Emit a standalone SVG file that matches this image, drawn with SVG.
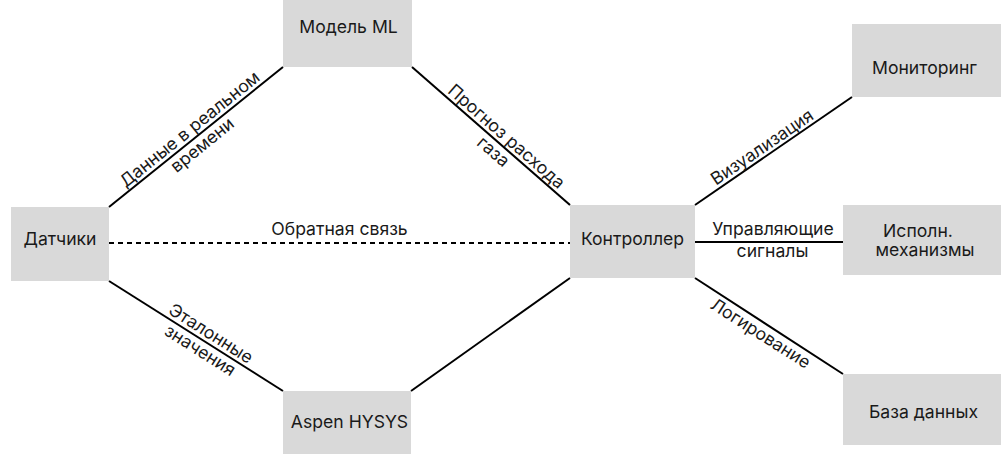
<svg xmlns="http://www.w3.org/2000/svg" width="1001" height="454" viewBox="0 0 1001 454">
<style>
.box{fill:#d9d9d9}
.t{font-family:Inter,"Noto Sans",sans-serif;font-size:17.6px;fill:#1a1a1a;text-anchor:middle}
.l{stroke:#000;stroke-width:2;fill:none}
.d{stroke:#000;stroke-width:2;fill:none;stroke-dasharray:5 4}
</style>
<rect width="1001" height="454" fill="#fff"/>
<g id="connectors">
<line class="l" x1="109" y1="207" x2="283" y2="67"/>
<line class="l" x1="412" y1="67" x2="570" y2="205"/>
<line class="l" x1="109" y1="281" x2="283" y2="391"/>
<line class="l" x1="411" y1="391" x2="570" y2="278"/>
<line class="d" x1="109" y1="243" x2="570" y2="243"/>
<line class="l" x1="695" y1="205" x2="852" y2="97"/>
<line class="l" x1="695" y1="242" x2="843" y2="242"/>
<line class="l" x1="695" y1="278" x2="843" y2="374"/>
<g transform="translate(196,137) rotate(-38.8)"><text class="t" x="0" y="-4">Данные в реальном</text><text class="t" x="0" y="16">времени</text></g>
<g transform="translate(500,144) rotate(41.1)"><text class="t" x="0" y="-4">Прогноз расхода</text><text class="t" x="0" y="16">газа</text></g>
<g transform="translate(205.6,341.9) rotate(32.4)"><text class="t" x="0" y="-4">Эталонные</text><text class="t" x="0" y="16">значения</text></g>
<text class="t" x="339.5" y="235">Обратная связь</text>
<g transform="translate(767.7,155.4) rotate(-34.3)"><text class="t" x="0" y="-4">Визуализация</text></g>
<text class="t" x="773" y="235">Управляющие</text>
<text class="t" x="772.5" y="257">сигналы</text>
<g transform="translate(766,325) rotate(32.5)"><text class="t" x="0" y="16">Логирование</text></g>
</g>
<g id="n-sensors"><rect class="box" x="11" y="207" width="98" height="74"/><text class="t" x="60" y="245">Датчики</text></g>
<g id="n-ml"><rect class="box" x="283" y="-8" width="129" height="75"/><text class="t" x="348.5" y="33">Модель ML</text></g>
<g id="n-controller"><rect class="box" x="570" y="205" width="125" height="73"/><text class="t" x="632.5" y="245">Контроллер</text></g>
<g id="n-hysys"><rect class="box" x="283" y="391" width="128" height="73"/><text class="t" x="349.5" y="428">Aspen HYSYS</text></g>
<g id="n-monitoring"><rect class="box" x="852" y="24" width="149" height="73"/><text class="t" x="924.5" y="74">Мониторинг</text></g>
<g id="n-actuators"><rect class="box" x="843" y="205" width="158" height="70"/><text class="t" x="918" y="237">Исполн.</text><text class="t" x="925" y="256">механизмы</text></g>
<g id="n-db"><rect class="box" x="843" y="374" width="158" height="71"/><text class="t" x="923.5" y="418">База данных</text></g>
</svg>
